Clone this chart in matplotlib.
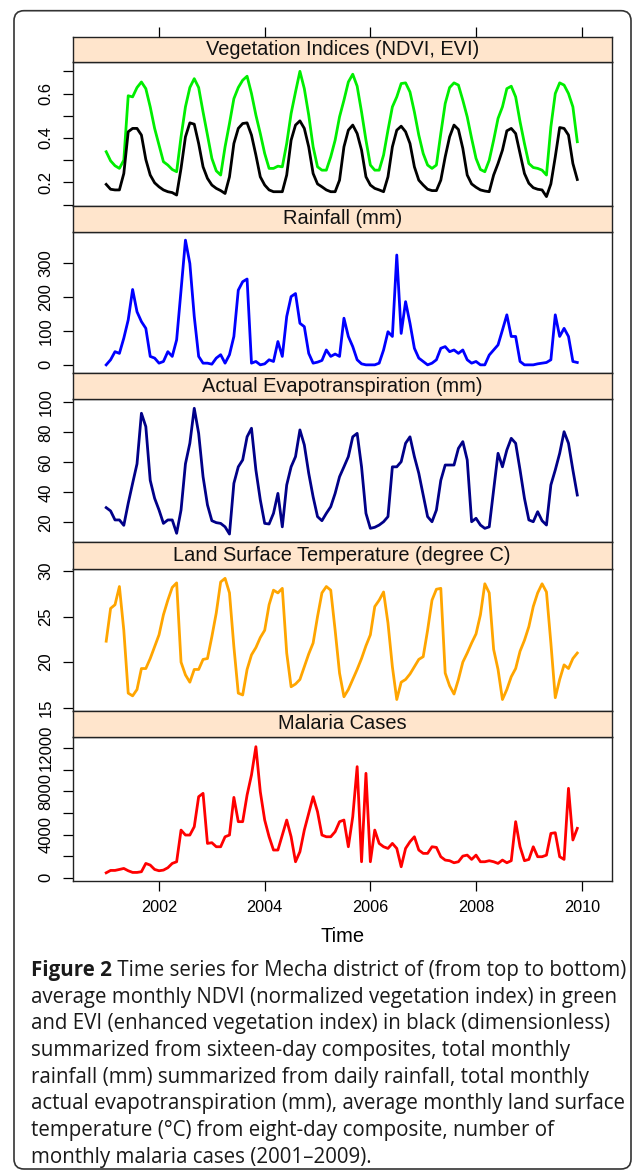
import matplotlib
matplotlib.use('Agg')
import matplotlib.pyplot as plt
import numpy as np
from matplotlib.patches import FancyBboxPatch
from matplotlib.transforms import IdentityTransform

plt.rcParams['font.family'] = ['Liberation Sans', 'DejaVu Sans']

# monthly values, Jan 2001 - Dec 2009
ndvi = [0.338, 0.297, 0.275, 0.263, 0.30, 0.59, 0.585, 0.627, 0.652, 0.622, 0.54, 0.443,
        0.368, 0.293, 0.278, 0.258, 0.248, 0.405, 0.54, 0.627, 0.667, 0.627, 0.517, 0.413,
        0.308, 0.252, 0.233, 0.36, 0.465, 0.577, 0.627, 0.66, 0.678, 0.60, 0.503, 0.42,
        0.33, 0.263, 0.263, 0.273, 0.27, 0.375, 0.51, 0.607, 0.70, 0.622, 0.503, 0.36,
        0.27, 0.255, 0.255, 0.315, 0.39, 0.495, 0.57, 0.652, 0.687, 0.633, 0.517, 0.39,
        0.278, 0.255, 0.255, 0.323, 0.435, 0.54, 0.585, 0.645, 0.648, 0.607, 0.517, 0.413,
        0.33, 0.278, 0.263, 0.278, 0.42, 0.555, 0.627, 0.648, 0.638, 0.57, 0.495, 0.398,
        0.308, 0.258, 0.248, 0.30, 0.39, 0.488, 0.54, 0.622, 0.633, 0.585, 0.473, 0.375,
        0.285, 0.267, 0.263, 0.255, 0.233, 0.45, 0.60, 0.648, 0.638, 0.60, 0.54, 0.383]
evi = [0.191, 0.169, 0.166, 0.166, 0.24, 0.428, 0.443, 0.443, 0.413, 0.303, 0.233, 0.198,
       0.18, 0.166, 0.158, 0.154, 0.143, 0.263, 0.405, 0.468, 0.462, 0.375, 0.27, 0.218,
       0.188, 0.173, 0.163, 0.15, 0.225, 0.375, 0.443, 0.465, 0.468, 0.413, 0.323, 0.225,
       0.188, 0.166, 0.158, 0.158, 0.158, 0.233, 0.39, 0.458, 0.477, 0.443, 0.36, 0.24,
       0.193, 0.18, 0.166, 0.158, 0.158, 0.21, 0.36, 0.435, 0.458, 0.42, 0.345, 0.225,
       0.188, 0.173, 0.166, 0.158, 0.225, 0.36, 0.435, 0.453, 0.428, 0.375, 0.27, 0.21,
       0.188, 0.169, 0.163, 0.163, 0.21, 0.315, 0.405, 0.458, 0.438, 0.353, 0.233, 0.193,
       0.178, 0.166, 0.161, 0.158, 0.233, 0.285, 0.345, 0.432, 0.443, 0.42, 0.33, 0.24,
       0.196, 0.176, 0.169, 0.166, 0.136, 0.193, 0.315, 0.447, 0.443, 0.413, 0.285, 0.213]
rainfall = [0, 15, 39, 34, 79, 133, 223, 157, 128, 108, 25, 20,
            5, 10, 39, 25, 74, 221, 369, 300, 143, 25, 5, 5,
            2, 20, 30, 5, 30, 84, 221, 246, 254, 5, 10, 0,
            3, 15, 10, 69, 25, 143, 202, 211, 123, 113, 34, 5,
            8, 13, 44, 25, 32, 25, 138, 84, 54, 15, 3, 0,
            0, 0, 5, 44, 98, 84, 325, 93, 187, 123, 49, 20,
            10, 0, 5, 15, 49, 54, 39, 44, 34, 44, 15, 5,
            10, 0, 0, 29, 44, 59, 103, 148, 84, 84, 10, 0,
            0, 0, 3, 5, 7, 15, 148, 84, 108, 84, 10, 7]
aet = [29.8, 27.6, 21.6, 21.6, 18, 32.7, 46, 59, 92.7, 83.8, 48, 36,
       28.2, 19.3, 21.6, 21.6, 12.7, 28.2, 59, 72.7, 96, 79.3, 50.4, 31.6,
       21.1, 19.8, 19.3, 17, 12.2, 46, 57, 61.6, 77, 82.7, 54.9, 35,
       19.3, 18.9, 26, 39.3, 17, 44.9, 57, 63.8, 81.6, 71.6, 52.7, 37,
       23.8, 21.1, 26, 30.4, 39.3, 50.4, 57, 63.8, 77, 79.3, 57, 26,
       16, 16.7, 18.2, 20.4, 23.8, 57, 57, 60.4, 72.7, 77, 63.8, 52.7,
       38.2, 23.8, 20.4, 28.2, 48, 58.2, 58.2, 58.2, 69.3, 73.8, 61.6, 20.4,
       22.7, 18.2, 16, 17, 41.6, 66, 57, 68.2, 76, 72.7, 54.9, 36,
       21.6, 20.4, 27.1, 21.1, 18.2, 44.9, 54.9, 66, 80.4, 72.7, 54.9, 38.2]
lst = [22.3, 25.9, 26.3, 28.3, 23.5, 16.6, 16.3, 17, 19.3, 19.3, 20.4, 21.7,
       23, 25.2, 26.8, 28.2, 28.7, 20, 18.6, 17.8, 19.2, 19.2, 20.3, 20.4,
       22.8, 25.4, 28.8, 29.2, 27.6, 21.7, 16.6, 16.4, 19.2, 20.8, 21.6, 22.7,
       23.5, 26.3, 27.9, 27.6, 28.1, 21, 17.3, 17.6, 18.1, 19.5, 20.9, 22.1,
       25, 27.6, 28.3, 27.9, 23.5, 18.8, 16.2, 17, 18.1, 19.2, 20.4, 21.8,
       23, 26.1, 26.8, 27.7, 24.3, 19.5, 15.9, 17.8, 18.1, 18.7, 19.5, 20.3,
       20.6, 23.5, 26.8, 28, 28.1, 18.8, 17.4, 16.5, 18.1, 20, 21, 22.1,
       23.1, 25.2, 28.6, 27.6, 21.4, 19.2, 15.9, 17, 18.4, 19.3, 21.2, 22.4,
       23.9, 26.1, 27.6, 28.6, 27.7, 22.1, 16.1, 18.1, 19.7, 19.3, 20.4, 21]
malaria = [460, 680, 680, 770, 865, 650, 495, 495, 560, 1330, 1175, 770,
           650, 710, 930, 1330, 1485, 4420, 3960, 3960, 4730, 7515, 7825, 3185,
           3250, 2875, 2875, 3800, 3960, 7450, 5200, 5200, 7670, 9530, 12150, 7980,
           5350, 3800, 2570, 2570, 3960, 5350, 3800, 1485, 2410, 4420, 5970, 7515,
           6120, 3960, 3800, 3800, 4270, 5200, 5350, 2875, 5660, 10300, 1485, 9680,
           1485, 4420, 3185, 2875, 2720, 3185, 2720, 1020, 2720, 3340, 3800, 2570,
           2260, 2260, 2875, 2815, 1950, 1640, 1580, 1390, 1485, 2010, 2100, 1700,
           2100, 1485, 1485, 1580, 1485, 1330, 1640, 1390, 1580, 5200, 2875, 1580,
           1700, 2875, 1950, 1950, 2100, 4110, 4175, 1950, 1700, 8290, 3500, 4580]

time = 2001 + np.arange(len(ndvi)) / 12.0

titles = ['Vegetation Indices (NDVI, EVI)', 'Rainfall (mm)',
          'Actual Evapotranspiration (mm)', 'Land Surface Temperature (degree C)',
          'Malaria Cases']
year_ticks = [2002, 2004, 2006, 2008, 2010]
ytick_sets = [[0.1, 0.2, 0.3, 0.4, 0.5, 0.6, 0.7],
              [0, 100, 200, 300],
              [20, 40, 60, 80, 100],
              [15, 20, 25, 30],
              [0, 2000, 4000, 6000, 8000, 10000, 12000]]
ylabel_sets = [['', '0.2', '', '0.4', '', '0.6', ''],
               ['0', '100', '200', '300'],
               ['20', '40', '60', '80', '100'],
               ['15', '20', '25', '30'],
               ['0', '', '4000', '', '8000', '', '12000']]
ylims = [(0.095, 0.742), (-25, 394), (6.7, 102), (14.64, 30.19), (-300, 13076)]

caption_lines = [
    'average monthly NDVI (normalized vegetation index) in green',
    'and EVI (enhanced vegetation index) in black (dimensionless)',
    'summarized from sixteen-day composites, total monthly',
    'rainfall (mm) summarized from daily rainfall, total monthly',
    'actual evapotranspiration (mm), average monthly land surface',
    'temperature (\u00b0C) from eight-day composite, number of',
    'monthly malaria cases (2001\u20132009).']

W, H = 633, 1172
fig = plt.figure(figsize=(W / 100, H / 100), dpi=100)

# pixel layout of the lattice panels
left, right = 72.7, 611.7
strip_top = [37.3, 205.7, 373.3, 542.3, 711.0]
strip_bot = [62.0, 231.7, 399.3, 569.3, 736.7]
plot_bot = [205.7, 373.3, 542.3, 711.0, 881.0]
xlim = (2000.366, 2010.568)


def add_ax(top, bottom):
    return fig.add_axes([left / W, 1 - bottom / H, (right - left) / W, (bottom - top) / H])


series = [[(ndvi, '#00ee00'), (evi, 'black')],
          [(rainfall, '#0000ff')],
          [(aet, '#000088')],
          [(lst, '#ffa500')],
          [(malaria, '#ff0000')]]

for i in range(5):
    ax = add_ax(strip_bot[i], plot_bot[i])
    for vals, col in series[i]:
        ax.plot(time, vals, color=col, lw=2.0)
    ax.set_xlim(*xlim)
    ax.set_ylim(*ylims[i])
    ax.set_yticks(ytick_sets[i])
    ax.set_yticklabels(ylabel_sets[i], rotation=90, va='center')
    ax.tick_params(axis='y', direction='out', length=7, width=0.9, pad=7, labelsize=12)
    for s in ax.spines.values():
        s.set_linewidth(1.0)
        s.set_color('#222222')
    if i == 4:
        ax.set_xticks(year_ticks)
        ax.set_xticklabels([str(y) for y in year_ticks])
        ax.tick_params(axis='x', direction='out', length=7, width=0.9, pad=7, labelsize=11.7)
    else:
        ax.set_xticks([])

    sa = add_ax(strip_top[i], strip_bot[i])
    sa.set_facecolor('#ffe5cc')
    sa.set_xlim(*xlim)
    sa.set_yticks([])
    for s in sa.spines.values():
        s.set_linewidth(1.0)
        s.set_color('#222222')
    if i == 0:
        sa.xaxis.tick_top()
        sa.set_xticks(year_ticks)
        sa.set_xticklabels([])
        sa.tick_params(axis='x', direction='out', length=7, width=0.9)
    else:
        sa.set_xticks([])
    sa.text(0.5, 0.5, titles[i], transform=sa.transAxes, ha='center', va='center',
            fontsize=14.4, color='#111111')

fig.text((left + right) / 2 / W, 1 - 936.7 / H, 'Time', ha='center', va='center', fontsize=14.5)

# caption
cap_font = ['Open Sans', 'DejaVu Sans']
cap_color = '#1a1a1a'
x0 = 30.7 / W
base0 = 976.0
step = 26.67
size = 12.0
t_bold = fig.text(x0, 1 - base0 / H, 'Figure 2', fontweight='bold', family=cap_font,
                  fontsize=size, va='baseline', color=cap_color)
t_rest = fig.text(x0, 1 - base0 / H, ' Time series for Mecha district of (from top to bottom)',
                  family=cap_font, fontsize=size, fontweight='medium', va='baseline',
                  color=cap_color)
renderer = fig.canvas.get_renderer()
w_total = t_bold.get_window_extent(renderer).width + t_rest.get_window_extent(renderer).width
size = size * 592.0 / w_total
t_bold.set_fontsize(size)
t_rest.set_fontsize(size)
wb = t_bold.get_window_extent(renderer).width
t_rest.set_x(x0 + wb / W)
for k, line in enumerate(caption_lines):
    fig.text(x0, 1 - (base0 + step * (k + 1)) / H, line, family=cap_font, fontsize=size,
             fontweight='medium', va='baseline', color=cap_color)

# rounded frame around figure + caption
frame = FancyBboxPatch((14, H - 1169), 631 - 14, 1169 - 10.7,
                       boxstyle='round,pad=0,rounding_size=10', transform=IdentityTransform(),
                       fill=False, ec='#333333', lw=1.2)
fig.add_artist(frame)

fig.savefig('out.png', dpi=100)
